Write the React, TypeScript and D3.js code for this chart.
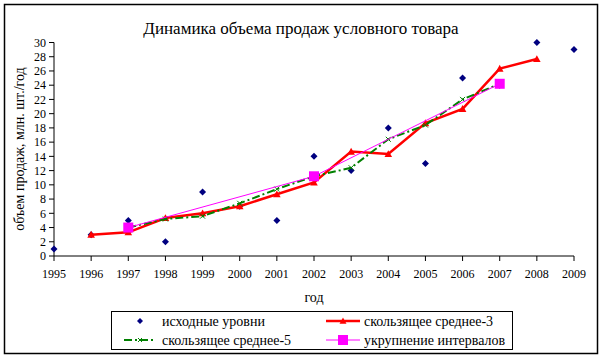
import React from "react"
import * as d3 from "d3"

const years = [1995, 1996, 1997, 1998, 1999, 2000, 2001, 2002, 2003, 2004, 2005, 2006, 2007, 2008, 2009]
const levels = [1, 3, 5, 2, 9, 7, 5, 14, 12, 18, 13, 25, 24, 30, 29]
const ma3Years = [1996, 1997, 1998, 1999, 2000, 2001, 2002, 2003, 2004, 2005, 2006, 2007, 2008]
const ma3 = [3, 3.33, 5.33, 6, 7, 8.67, 10.33, 14.67, 14.33, 18.67, 20.67, 26.33, 27.67]
const ma5Years = [1997, 1998, 1999, 2000, 2001, 2002, 2003, 2004, 2005, 2006, 2007]
const ma5 = [4, 5.2, 5.6, 7.4, 9.4, 11.2, 12.4, 16.4, 18.4, 22, 24.2]
const groupYears = [1997, 2002, 2007]
const groupValues = [4, 11.2, 24.2]
const yTicks = d3.range(0, 31, 2)

const FONT = "Liberation Serif"

const App = () => {
  const width = 604
  const height = 359
  const x = d3.scaleLinear().domain([1995, 2009]).range([54, 574])
  const y = d3.scaleLinear().domain([0, 30]).range([256, 42.5])

  const line = d3
    .line<[number, number]>()
    .x((d) => x(d[0]))
    .y((d) => y(d[1]))

  const pts = (xs: number[], vs: number[]) => xs.map((v, i) => [v, vs[i]] as [number, number])

  const diamond = (cx: number, cy: number, r = 3.5) =>
    `M${cx},${cy - r}L${cx + r},${cy}L${cx},${cy + r}L${cx - r},${cy}Z`
  const triangle = (cx: number, cy: number, r = 3.8) =>
    `M${cx},${cy - r}L${cx + r},${cy + r * 0.8}L${cx - r},${cy + r * 0.8}Z`
  const cross = (cx: number, cy: number, r = 2.5) =>
    `M${cx - r},${cy - r}L${cx + r},${cy + r}M${cx - r},${cy + r}L${cx + r},${cy - r}`

  return (
    <svg
      width={width}
      height={height}
      style={{ position: "absolute", left: 0, top: 0 }}
    >
      <rect x={0} y={0} width={width} height={height} fill="#fff" />
      <rect x={4.5} y={4.5} width={593} height={349} fill="#fff" stroke="#000" strokeWidth={1.5} />

      <g fontFamily={FONT}>
        <text x={301} y={34} textAnchor="middle" fontSize={17}>
          Динамика объема продаж условного товара
        </text>

        {/* axes */}
        <line x1={54} x2={54} y1={y(30)} y2={y(0)} stroke="#000" />
        <line x1={54} x2={574} y1={y(0)} y2={y(0)} stroke="#000" />
        {yTicks.map((t) => (
          <g key={t}>
            <line x1={49} x2={54} y1={y(t)} y2={y(t)} stroke="#000" />
            <text x={46} y={y(t)} dy="0.35em" textAnchor="end" fontSize={12}>
              {t}
            </text>
          </g>
        ))}
        {years.map((t) => (
          <g key={t}>
            <line x1={x(t)} x2={x(t)} y1={y(0)} y2={y(0) + 5} stroke="#000" />
            <text x={x(t)} y={274} dy="0.35em" textAnchor="middle" fontSize={12}>
              {t}
            </text>
          </g>
        ))}
        <text x={314} y={302} textAnchor="middle" fontSize={14}>
          год
        </text>
        <text
          transform={`translate(24,149) rotate(-90)`}
          textAnchor="middle"
          fontSize={14}
        >
          объем продаж, млн. шт./год
        </text>

        {/* series */}
        {years.map((t, i) => (
          <path key={t} d={diamond(x(t), y(levels[i]))} fill="#000080" />
        ))}

        <path d={line(pts(ma3Years, ma3)) || ""} fill="none" stroke="#ff0000" strokeWidth={2.5} />
        {ma3Years.map((t, i) => (
          <path key={t} d={triangle(x(t), y(ma3[i]))} fill="#ff0000" />
        ))}

        <path
          d={line(pts(ma5Years, ma5)) || ""}
          fill="none"
          stroke="#008000"
          strokeWidth={2}
          strokeDasharray="8,3,2,3"
        />
        {ma5Years.map((t, i) => (
          <path key={t} d={cross(x(t), y(ma5[i]))} stroke="#008000" strokeWidth={1} fill="none" />
        ))}

        <path d={line(pts(groupYears, groupValues)) || ""} fill="none" stroke="#ff00ff" strokeWidth={1} />
        {groupYears.map((t, i) => (
          <rect key={t} x={x(t) - 5} y={y(groupValues[i]) - 5} width={10} height={10} fill="#ff00ff" />
        ))}

        {/* legend */}
        <rect x={111.5} y={311.5} width={401} height={38} fill="#fff" stroke="#000" strokeWidth={1} />
        <g fontSize={14}>
          <path d={diamond(140, 321, 3)} fill="#000080" />
          <text x={162} y={321} dy="0.35em">исходные уровни</text>

          <line x1={326} x2={360} y1={321} y2={321} stroke="#ff0000" strokeWidth={2.5} />
          <path d={triangle(343, 321, 3.5)} fill="#ff0000" />
          <text x={364} y={321} dy="0.35em">скользящее среднее-3</text>

          <line x1={124} x2={155} y1={340} y2={340} stroke="#008000" strokeWidth={2} strokeDasharray="8,3,2,3" />
          <path d={cross(140, 340, 2)} stroke="#008000" fill="none" />
          <text x={162} y={340} dy="0.35em">скользящее среднее-5</text>

          <line x1={326} x2={360} y1={340} y2={340} stroke="#ff00ff" strokeWidth={1} />
          <rect x={338} y={335} width={10} height={10} fill="#ff00ff" />
          <text x={364} y={340} dy="0.35em">укрупнение интервалов</text>
        </g>
      </g>
    </svg>
  )
}

export default App
